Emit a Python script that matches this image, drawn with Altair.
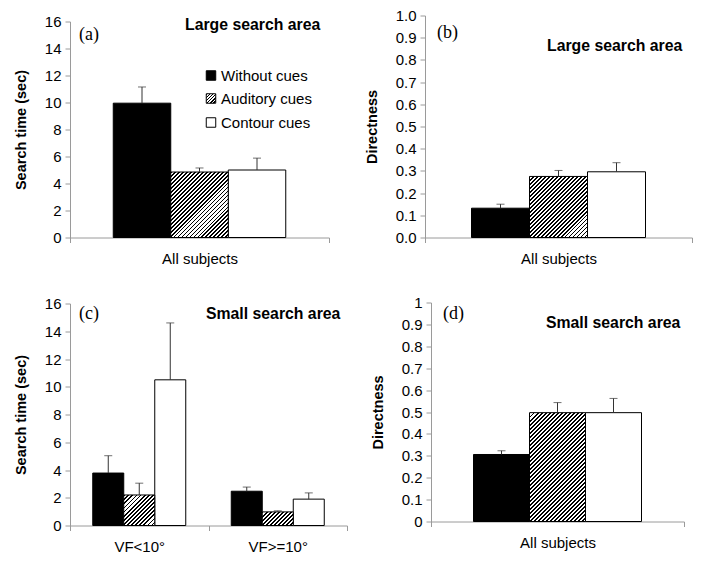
import altair as alt
import pandas as pd

# ---------------- data ----------------
series = ["Without cues", "Auditory cues", "Contour cues"]

a_cats = ["All subjects"]
a_mean = [9.95, 4.85, 5.0]
a_err = [1.2, 0.3, 0.88]

b_cats = ["All subjects"]
b_mean = [0.132, 0.275, 0.296]
b_err = [0.018, 0.027, 0.041]

c_cats = ["VF<10°", "VF>=10°"]
c_mean_lt = [3.78, 2.2, 10.5]
c_err_lt = [1.25, 0.85, 4.1]
c_mean_ge = [2.47, 0.98, 1.9]
c_err_ge = [0.3, 0.08, 0.45]

d_cats = ["All subjects"]
d_mean = [0.306, 0.497, 0.497]
d_err = [0.017, 0.046, 0.065]

ticks_time = [0, 2, 4, 6, 8, 10, 12, 14, 16]
ticks_dir = [0, 0.1, 0.2, 0.3, 0.4, 0.5, 0.6, 0.7, 0.8, 0.9, 1]

FONT = "Liberation Sans"
SERIF = "Liberation Serif"
ERRC = "#333333"


def hatch(w, h, period=4.0, frac=0.45):
    """Diagonal '/' hatching as a striped linear gradient (bbox units)."""
    r = h / w
    s = (1 + r) / (1 + r * r)
    n = max(1, round((w + h) / period))
    stops = []
    for k in range(n):
        a = k / n
        b = (k + frac) / n
        stops += [
            {"offset": a, "color": "white"},
            {"offset": a, "color": "black"},
            {"offset": b, "color": "black"},
            {"offset": b, "color": "white"},
        ]
    stops.append({"offset": 1, "color": "white"})
    return {"gradient": "linear", "x1": 0, "y1": 0, "x2": s, "y2": s * r, "stops": stops}


def frame(cats, means, errs):
    rows = []
    for ci, c in enumerate(cats):
        for si, s in enumerate(series):
            m = means[ci][si]
            e = errs[ci][si]
            rows.append({"cat": c, "series": s, "value": m, "top": m + e})
    return pd.DataFrame(rows)


def text_layer(txt, x, y, font, size, weight="normal"):
    return alt.Chart(pd.DataFrame({"t": [txt]})).mark_text(
        align="left", baseline="middle", font=font, fontSize=size,
        fontWeight=weight, color="black"
    ).encode(text="t:N", x=alt.value(x), y=alt.value(y))


def panel(cats, means, errs, ymax, yticks, yfmt, ytitle, width,
          yrange, bar_w, tag, tagpos, title, titlepos):
    df = frame(cats, means, errs)
    plot_h = yrange[0] - yrange[1]

    yscale = alt.Scale(domain=[0, ymax], nice=False, zero=True, range=yrange)
    yaxis = alt.Axis(title=ytitle, values=yticks, format=yfmt,
                     labelOverlap=False, labelPadding=4, titlePadding=16,
                     tickCount=len(yticks))
    xenc = alt.X("cat:N", sort=cats,
                 scale=alt.Scale(domain=cats, paddingInner=0, paddingOuter=0),
                 axis=alt.Axis(title=None, labelAngle=0, tickBand="extent",
                               labelPadding=9))
    base = alt.Chart(df).encode(
        x=xenc,
        y=alt.Y("value:Q", scale=yscale, axis=yaxis),
    )
    offsets = [-bar_w, 0, bar_w]
    layers = []
    # bars (each series shifted within the category band)
    layers.append(base.transform_filter(alt.datum.series == series[0])
                  .mark_bar(fill="black", stroke="black", strokeWidth=1,
                            width=bar_w, xOffset=offsets[0]))
    layers.append(base.transform_filter(alt.datum.series == series[2])
                  .mark_bar(fill="white", stroke="black", strokeWidth=1,
                            width=bar_w, xOffset=offsets[2]))
    for ci, c in enumerate(cats):
        v = means[ci][1]
        h = v / ymax * plot_h
        layers.append(base.transform_filter(
            (alt.datum.series == series[1]) & (alt.datum.cat == c))
            .mark_bar(fill=hatch(bar_w, h), stroke="black", strokeWidth=1,
                      width=bar_w, xOffset=offsets[1]))
    # error bars (upper only) with caps
    for s, off in zip(series, offsets):
        sub = base.transform_filter(alt.datum.series == s)
        layers.append(sub.mark_rule(color=ERRC, strokeWidth=1, xOffset=off)
                      .encode(y2="top:Q"))
        layers.append(sub.mark_tick(color=ERRC, thickness=1, size=8, xOffset=off)
                      .encode(y=alt.Y("top:Q", scale=yscale, axis=yaxis)))
    layers.append(text_layer(tag, tagpos[0], tagpos[1], SERIF, 18))
    layers.append(text_layer(title, titlepos[0], titlepos[1], FONT, 15.8, "bold"))
    return layers


# (a)
la = panel(a_cats, [a_mean], [a_err], 16, ticks_time, "d", "Search time (sec)",
           259, [222, 6], 57.5, "(a)", (9, 19), "Large search area", (115, 9))
# legend in (a)
legend_fills = ["black", hatch(10, 10, period=3.4), "white"]
legend_y = [60, 83, 107]
for s, f, yy in zip(series, legend_fills, legend_y):
    la.append(alt.Chart(pd.DataFrame({"t": [s]})).mark_square(
        fill=f, stroke="black", strokeWidth=1, size=90, opacity=1)
        .encode(x=alt.value(141), y=alt.value(yy)))
    la.append(alt.Chart(pd.DataFrame({"t": [s]})).mark_text(
        align="left", baseline="middle", font=FONT, fontSize=15, color="black")
        .encode(text="t:N", x=alt.value(151), y=alt.value(yy)))
pa = alt.layer(*la).properties(width=259, height=222)

# (b)
lb = panel(b_cats, [b_mean], [b_err], 1, ticks_dir, ".1f", "Directness",
           267, [222, 0], 58, "(b)", (12, 17), "Large search area", (122, 30))
pb = alt.layer(*lb).properties(width=267, height=222)

# (c)
lc = panel(c_cats, [c_mean_lt, c_mean_ge], [c_err_lt, c_err_ge], 16, ticks_time, "d",
           "Search time (sec)", 277, [223, 1], 31, "(c)", (9, 11),
           "Small search area", (136, 11))
pc = alt.layer(*lc).properties(width=277, height=223)

# (d)
ld = panel(d_cats, [d_mean], [d_err], 1, ticks_dir, "~g", "Directness",
           253, [219, 0], 56, "(d)", (12, 11), "Small search area", (115, 20))
pd_ = alt.layer(*ld).properties(width=253, height=219)

row1 = alt.hconcat(pa, pb, spacing=96, bounds="flush")
row2 = alt.hconcat(pc, pd_, spacing=84, bounds="flush")
chart = alt.vconcat(row1, row2, spacing=29).properties(
    padding={"left": 5, "top": 0.5, "right": 5, "bottom": 5},
    background="white",
).configure_axis(
    domainColor="#9a9a9a", tickColor="#9a9a9a", tickSize=5, grid=False,
    labelFont=FONT, labelFontSize=15, labelColor="black",
    titleFont=FONT, titleFontSize=14.5, titleFontWeight="bold", titleColor="black",
).configure_view(stroke=None)

chart.save("out.html", embed_options={"renderer": "svg", "actions": False})
